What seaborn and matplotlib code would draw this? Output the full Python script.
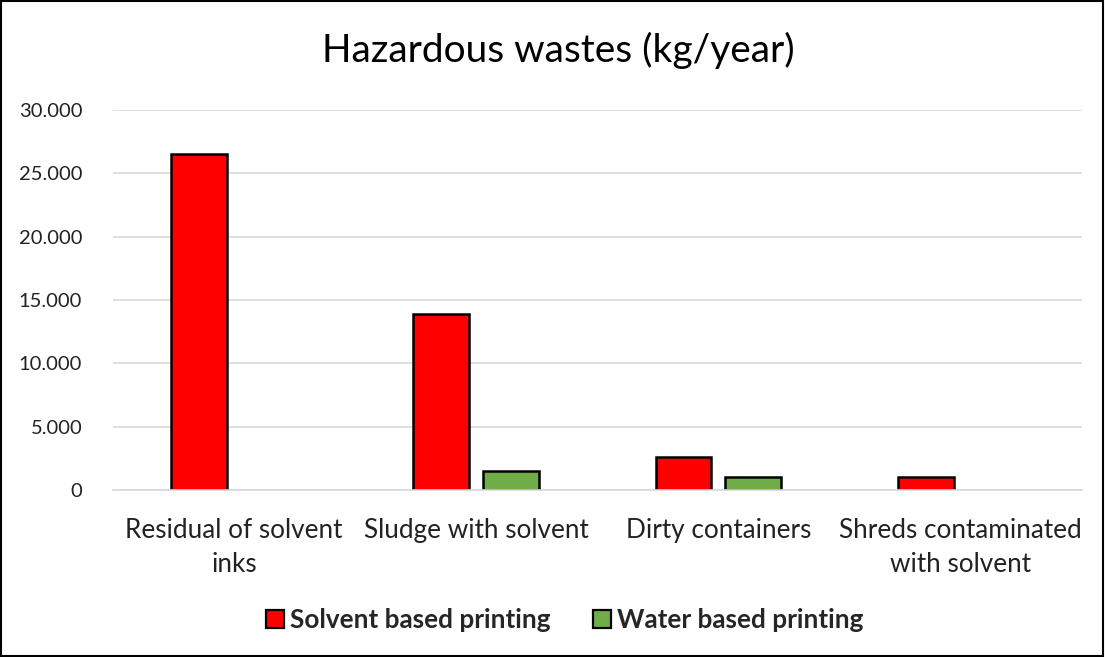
"""
Hazardous wastes bar chart
"""

import matplotlib
matplotlib.use("Agg")
import matplotlib.pyplot as plt
from matplotlib.patches import Patch, Rectangle
from matplotlib.ticker import FuncFormatter
import pandas as pd
import seaborn as sns

categories = [
    "Residual of solvent\ninks",
    "Sludge with solvent",
    "Dirty containers",
    "Shreds contaminated\nwith solvent",
]
solvent_based = [26500, 13900, 2600, 1000]
water_based = [0, 1500, 1000, 0]
series_names = ["Solvent based printing", "Water based printing"]
colors = ["#ff0000", "#70ad47"]
y_ticks = [0, 5000, 10000, 15000, 20000, 25000, 30000]

df = pd.DataFrame(
    {
        "category": categories * 2,
        "value": solvent_based + water_based,
        "series": [series_names[0]] * 4 + [series_names[1]] * 4,
    }
)

sns.set_theme(style="white")
plt.rcParams["font.family"] = ["Lato", "DejaVu Sans"]

fig = plt.figure(figsize=(11.05, 6.57), dpi=100)
ax = fig.add_axes([0.102, 0.254, 0.877, 0.5786])

sns.barplot(
    data=df,
    x="category",
    y="value",
    hue="series",
    palette=colors,
    saturation=1,
    width=0.576,
    gap=0.2,
    edgecolor="black",
    linewidth=1.8,
    legend=False,
    ax=ax,
)

# empty bars get no outline
for bar in ax.patches:
    if bar.get_height() == 0:
        bar.set_visible(False)

ax.set_ylim(0, 30000)
ax.set_yticks(y_ticks)
ax.yaxis.set_major_formatter(
    FuncFormatter(lambda v, p: "0" if v == 0 else f"{int(v):,}".replace(",", "."))
)
ax.grid(axis="y", color="#d9d9d9", linewidth=1.2)
ax.set_axisbelow(True)
for side in ["top", "right", "left"]:
    ax.spines[side].set_visible(False)
ax.spines["bottom"].set_color("#d9d9d9")
ax.spines["bottom"].set_linewidth(1.2)
ax.tick_params(axis="both", length=0, colors="#222222")
ax.tick_params(axis="y", pad=22, labelsize=14.5)
ax.tick_params(axis="x", pad=20, labelsize=18.8)
for lbl in ax.get_xticklabels():
    lbl.set_linespacing(1.45)
ax.set_xlabel("")
ax.set_ylabel("")

fig.text(0.505, 0.923, "Hazardous wastes (kg/year)", ha="center", va="center",
         fontsize=28, color="black")

handles = [Patch(facecolor=c, edgecolor="black", linewidth=1.6, label=n)
           for c, n in zip(colors, series_names)]
ax.legend(
    handles=handles,
    loc="center",
    bbox_to_anchor=(0.511, 0.056),
    bbox_transform=fig.transFigure,
    ncol=2,
    frameon=False,
    prop={"weight": "bold", "size": 18.8},
    handlelength=0.7,
    handleheight=0.7,
    handletextpad=0.25,
    columnspacing=1.6,
)

fig.patches.append(
    Rectangle((0.001, 0.001), 0.997, 0.997, transform=fig.transFigure,
              fill=False, edgecolor="black", linewidth=1.5)
)

fig.savefig("out.png", dpi=100)
